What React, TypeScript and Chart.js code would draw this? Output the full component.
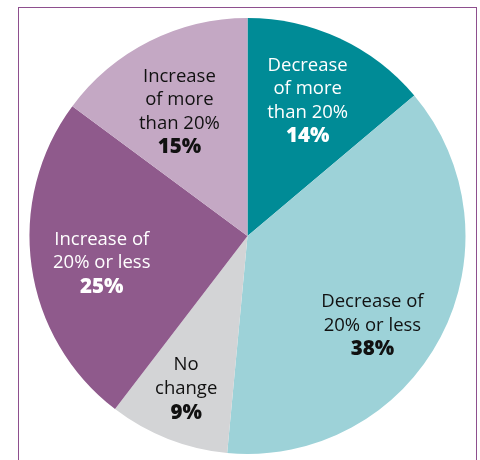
import React, { useEffect, useRef } from "react";
import { Chart, registerables } from "chart.js";

Chart.register(...registerables);

const categories = [
  "Decrease of more than 20%",
  "Decrease of 20% or less",
  "No change",
  "Increase of 20% or less",
  "Increase of more than 20%",
];
const values = [14, 38, 9, 25, 15];
const labelLines = [
  ["Decrease", "of more", "than 20%"],
  ["Decrease of", "20% or less"],
  ["No", "change"],
  ["Increase of", "20% or less"],
  ["Increase", "of more", "than 20%"],
];
const percentLabels = ["14%", "38%", "9%", "25%", "15%"];

const colors = ["#008b96", "#9dd2d8", "#d3d4d6", "#8f5a8c", "#c4a8c4"];
const textColors = ["#ffffff", "#111111", "#111111", "#ffffff", "#111111"];
// label placement relative to each arc: angle shift (deg) and radius fraction
const labelPlace = [
  { shift: -1, r: 0.68 },
  { shift: 8, r: 0.705 },
  { shift: 0.5, r: 0.755 },
  { shift: -2.5, r: 0.68 },
  { shift: -2, r: 0.65 },
];

const FONT = "'Open Sans', sans-serif";

const labelPlugin = {
  id: "sliceLabels",
  afterDatasetsDraw(chart: any) {
    const ctx = chart.ctx;
    const meta = chart.getDatasetMeta(0);
    meta.data.forEach((arc: any, i: number) => {
      const { x, y, startAngle, endAngle, outerRadius } = arc.getProps(
        ["x", "y", "startAngle", "endAngle", "outerRadius"],
        true
      );
      const mid = (startAngle + endAngle) / 2 + (labelPlace[i].shift * Math.PI) / 180;
      const rr = outerRadius * labelPlace[i].r;
      const cx = x + Math.cos(mid) * rr;
      const cy = y + Math.sin(mid) * rr;
      const lines = labelLines[i];
      const lh = 23.5;
      const total = lines.length + 1;
      const top = cy - ((total - 1) * lh) / 2;
      ctx.save();
      ctx.fillStyle = textColors[i];
      ctx.textAlign = "center";
      ctx.textBaseline = "middle";
      ctx.font = `400 18.5px ${FONT}`;
      lines.forEach((t: string, k: number) => {
        ctx.fillText(t, cx, top + k * lh);
      });
      ctx.font = `800 20.5px ${FONT}`;
      ctx.fillText(percentLabels[i], cx, top + lines.length * lh + 0.5);
      ctx.restore();
    });
  },
};

export default function App() {
  const ref = useRef<HTMLCanvasElement | null>(null);
  useEffect(() => {
    if (!ref.current) return;
    const chart = new Chart(ref.current, {
      type: "pie",
      data: {
        labels: categories,
        datasets: [
          {
            data: values,
            backgroundColor: colors,
            borderWidth: 0,
          },
        ],
      },
      options: {
        responsive: false,
        animation: false,
        layout: { padding: { left: 29.5, right: 14.5, top: 18, bottom: 6 } },
        plugins: {
          legend: { display: false },
          tooltip: { enabled: false },
        },
      },
      plugins: [labelPlugin],
    });
    return () => chart.destroy();
  }, []);
  return (
    <div style={{ position: "absolute", left: 0, top: 0, width: 480, height: 460, background: "#fff" }}>
      <div
        style={{
          position: "absolute",
          left: 17.5,
          top: 7,
          width: 457,
          height: 470,
          borderLeft: "1.5px solid #8e4f8e",
          borderRight: "1.5px solid #8e4f8e",
          borderTop: "1.5px solid #8e4f8e",
        }}
      />
      <canvas ref={ref} width={480} height={460} style={{ position: "absolute", left: 0, top: 0 }} />
    </div>
  );
}
